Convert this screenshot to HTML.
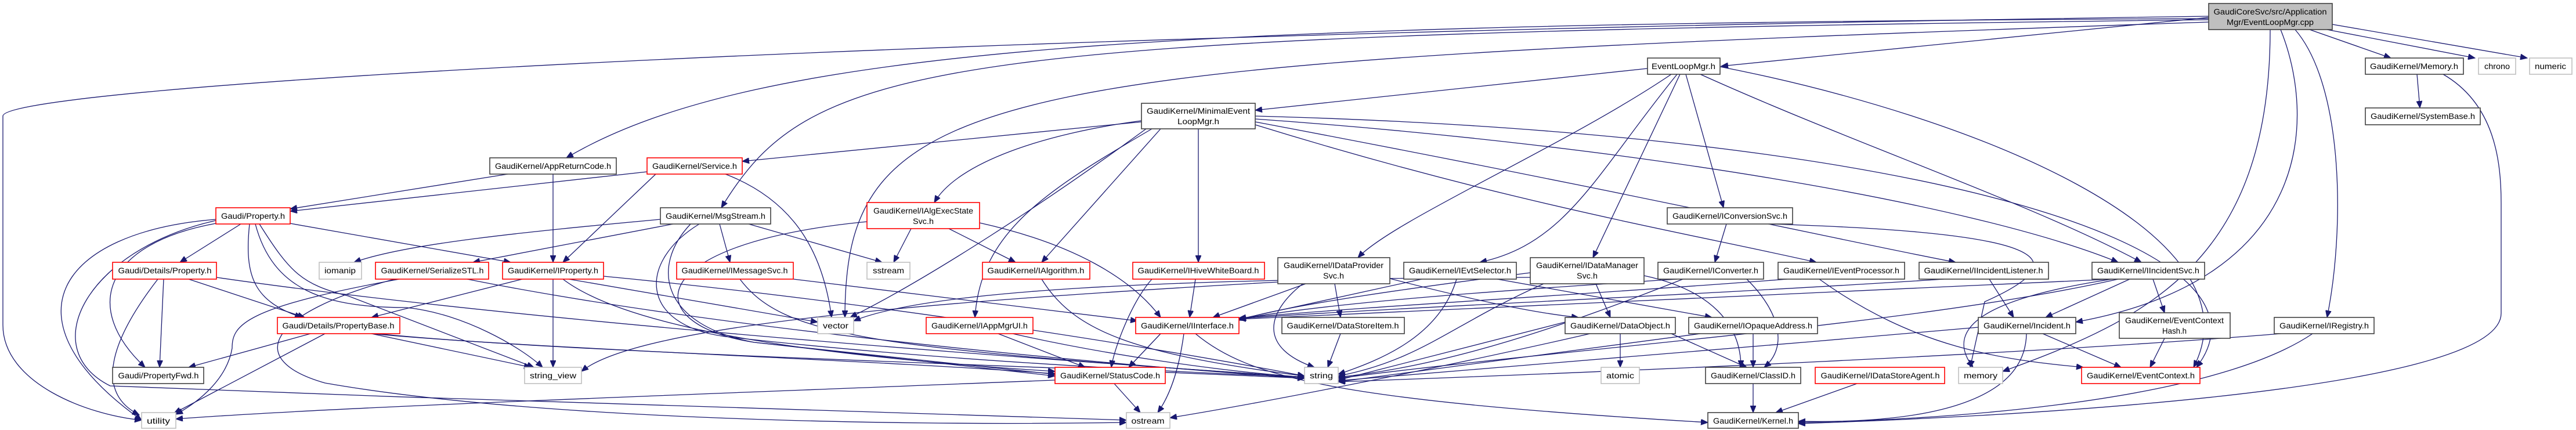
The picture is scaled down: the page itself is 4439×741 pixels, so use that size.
<!DOCTYPE html>
<html><head><meta charset="utf-8"><style>
html,body{margin:0;padding:0;background:#fff;}
svg{display:block;}
text{font-family:"Liberation Sans","DejaVu Sans",sans-serif;font-size:14px;fill:#000;}
.e{fill:none;stroke:#191970;stroke-width:1.3;marker-end:url(#a);}
.b{fill:#fff;stroke:#404040;stroke-width:1.6;}
.r{fill:#fff;stroke:#ff0000;stroke-width:1.6;}
.g{fill:#fff;stroke:#bfbfbf;stroke-width:1.6;}
</style></head><body>
<svg width="4439" height="741" viewBox="0 0 4439 741" xmlns="http://www.w3.org/2000/svg">
<defs><marker id="a" markerUnits="userSpaceOnUse" markerWidth="13" markerHeight="10" refX="12" refY="5" orient="auto"><path d="M0,0 L12,5 L0,10 z" fill="#191970" stroke="#191970"/></marker></defs>
<g>
<path class="e" d="M3806,30 L2966,114"/>
<path class="e" d="M3980,51 L4120,100"/>
<path class="e" d="M4010,51 L4265,100"/>
<path class="e" d="M4019,42 L4355,100"/>
<path class="e" d="M3806,32 C2000,40 1300,80 976,272"/>
<path class="e" d="M3806,34 C1600,60 1400,100 1243,358"/>
<path class="e" d="M3806,38 C1700,110 1456,140 1456,547"/>
<path class="e" d="M3806,28 C1500,60 5,150 5,200 L5,560 C5,660 150,715 244,724"/>
<path class="e" d="M3955,51 C4040,150 4040,400 4010,547"/>
<path class="e" d="M3930,51 C3990,200 3990,480 3577,555"/>
<path class="e" d="M3912,51 C3912,450 3700,550 3451,640"/>
<path class="e" d="M2839,118 L2163,190"/>
<path class="e" d="M2880,128 C2700,250 2400,380 2340,444"/>
<path class="e" d="M2890,128 C2750,300 2700,420 2550,452"/>
<path class="e" d="M2895,128 L2745,444"/>
<path class="e" d="M2905,128 L2970,358"/>
<path class="e" d="M2930,128 C3200,250 3500,350 3690,452"/>
<path class="e" d="M2964,115 C3400,200 3900,400 3780,633"/>
<path class="e" d="M1967,210 L1279,278"/>
<path class="e" d="M1967,208 C1800,230 1650,280 1610,349"/>
<path class="e" d="M2000,222 L1795,452"/>
<path class="e" d="M2065,222 L2065,452"/>
<path class="e" d="M1985,222 C1800,330 1690,400 1680,547"/>
<path class="e" d="M1975,222 C1800,350 1600,480 1465,547"/>
<path class="e" d="M2163,215 C2600,350 2900,400 3130,452"/>
<path class="e" d="M2163,210 C2800,330 3200,420 3370,452"/>
<path class="e" d="M2163,205 C2800,250 3400,350 3650,452"/>
<path class="e" d="M2163,200 C3300,230 3950,420 3785,633"/>
<path class="e" d="M875,300 L500,360"/>
<path class="e" d="M953,300 L953,452"/>
<path class="e" d="M1115,296 L500,364"/>
<path class="e" d="M1130,300 L970,452"/>
<path class="e" d="M1250,300 C1380,350 1420,450 1433,547"/>
<path class="e" d="M1138,378 C900,400 700,420 610,452"/>
<path class="e" d="M1160,386 L815,452"/>
<path class="e" d="M1240,386 L1258,452"/>
<path class="e" d="M1290,386 L1520,452"/>
<path class="e" d="M1205,386 C1100,450 1100,560 1250,580 C1600,620 2000,640 2248,650"/>
<path class="e" d="M1190,386 C1120,460 1140,560 1300,590 L1818,645"/>
<path class="e" d="M1570,394 L1540,452"/>
<path class="e" d="M1635,394 L1750,452"/>
<path class="e" d="M1688,384 C1850,420 1950,480 2000,547"/>
<path class="e" d="M1494,382 C1100,420 1100,560 1300,590 L1818,648"/>
<path class="e" d="M1795,481 C1850,570 1950,610 2248,648"/>
<path class="e" d="M2060,481 L2050,547"/>
<path class="e" d="M1985,481 C1950,520 1920,600 1915,633"/>
<path class="e" d="M2000,575 L1945,633"/>
<path class="e" d="M2040,575 C2030,650 2010,690 1995,711"/>
<path class="e" d="M2060,575 C2150,650 2300,690 2943,728"/>
<path class="e" d="M1920,661 L1965,711"/>
<path class="e" d="M1818,655 C1200,680 600,700 303,722"/>
<path class="e" d="M415,386 L310,452"/>
<path class="e" d="M372,385 C180,420 140,530 250,633"/>
<path class="e" d="M372,378 C100,400 0,550 244,724"/>
<path class="e" d="M430,386 C420,480 440,520 520,547"/>
<path class="e" d="M440,386 C470,500 560,530 700,530 C800,540 900,600 935,633"/>
<path class="e" d="M500,385 L880,452"/>
<path class="e" d="M447,386 C500,470 520,490 600,510 L920,633"/>
<path class="e" d="M372,380 C150,430 60,600 190,665 C800,690 1500,710 1941,724"/>
<path class="e" d="M282,481 L275,633"/>
<path class="e" d="M272,481 C180,600 170,680 240,715"/>
<path class="e" d="M325,481 L525,547"/>
<path class="e" d="M373,478 C800,540 1500,600 2248,650"/>
<path class="e" d="M688,481 C420,530 400,560 400,600 C390,660 330,700 303,714"/>
<path class="e" d="M680,481 C460,540 420,620 560,660 C900,720 1500,735 1941,728"/>
<path class="e" d="M805,481 C1200,560 1800,620 2248,652"/>
<path class="e" d="M900,481 L640,547"/>
<path class="e" d="M953,481 L953,633"/>
<path class="e" d="M980,481 L1409,555"/>
<path class="e" d="M970,481 C1100,580 1500,620 1818,640"/>
<path class="e" d="M1040,476 C1500,520 2000,600 2248,648"/>
<path class="e" d="M1367,481 L1960,553"/>
<path class="e" d="M1275,481 C1350,580 1500,600 2248,650"/>
<path class="e" d="M535,575 L325,633"/>
<path class="e" d="M560,575 L300,712"/>
<path class="e" d="M640,575 L915,633"/>
<path class="e" d="M640,575 C900,600 1500,620 1818,644"/>
<path class="e" d="M650,575 C1000,610 1800,630 2248,652"/>
<path class="e" d="M1720,575 L1870,633"/>
<path class="e" d="M1745,575 C1900,610 2100,640 2248,650"/>
<path class="e" d="M2250,489 L2090,547"/>
<path class="e" d="M2300,489 L2310,547"/>
<path class="e" d="M2245,489 C2180,540 2170,600 2265,633"/>
<path class="e" d="M2395,480 C2550,520 2650,540 2720,547"/>
<path class="e" d="M2202,486 C1600,520 1100,560 1002,640"/>
<path class="e" d="M2450,481 L2135,550"/>
<path class="e" d="M2510,481 C2480,580 2380,620 2306,645"/>
<path class="e" d="M2580,481 L2950,547"/>
<path class="e" d="M2637,470 C2400,500 2200,530 2135,552"/>
<path class="e" d="M2750,489 L2775,547"/>
<path class="e" d="M2660,489 C2500,560 2450,620 2306,648"/>
<path class="e" d="M2833,475 C2950,500 3000,560 3000,633"/>
<path class="e" d="M2637,478 C2000,480 1600,500 1471,553"/>
<path class="e" d="M2975,386 L2955,452"/>
<path class="e" d="M2890,481 C2600,500 2300,520 2135,550"/>
<path class="e" d="M3010,481 C3070,540 3080,600 3040,633"/>
<path class="e" d="M2900,481 C2700,560 2500,630 2306,650"/>
<path class="e" d="M3080,481 C2700,510 2400,525 2135,548"/>
<path class="e" d="M3135,481 C3300,600 3450,620 3590,633"/>
<path class="e" d="M3350,481 C2900,510 2400,530 2135,549"/>
<path class="e" d="M3428,481 L3470,547"/>
<path class="e" d="M3640,481 C3000,510 2500,530 2135,550"/>
<path class="e" d="M3670,481 L3525,547"/>
<path class="e" d="M3710,481 L3730,539"/>
<path class="e" d="M3650,481 C3300,560 2700,600 2306,652"/>
<path class="e" d="M3640,481 C3380,520 3360,580 3400,633"/>
<path class="e" d="M3050,386 C3500,400 3600,440 3420,520 L3395,633"/>
<path class="e" d="M2697,555 L2306,655"/>
<path class="e" d="M2792,575 L2792,633"/>
<path class="e" d="M2880,575 L3010,633"/>
<path class="e" d="M2740,575 C2500,630 2200,690 2016,720"/>
<path class="e" d="M3021,575 L3021,633"/>
<path class="e" d="M2930,575 L2306,658"/>
<path class="e" d="M3492,575 C3490,700 3300,730 3099,726"/>
<path class="e" d="M3520,575 L3655,633"/>
<path class="e" d="M3409,564 C3000,600 2500,640 2306,656"/>
<path class="e" d="M3730,583 L3705,633"/>
<path class="e" d="M3985,575 C3800,700 3300,725 3099,728"/>
<path class="e" d="M3930,575 C3500,610 2800,640 2306,658"/>
<path class="e" d="M4165,128 L4170,186"/>
<path class="e" d="M4210,128 C4300,180 4310,280 4310,350 L4310,540 C4310,680 3400,720 3099,730"/>
<path class="e" d="M3021,661 L3021,711"/>
<path class="e" d="M3200,661 L3060,711"/>
<path class="e" d="M2310,575 L2288,633"/>
</g>
<g>
<rect x="3806" y="6" width="213" height="45" fill="#bfbfbf" stroke="#404040" stroke-width="1.6"/>
<text x="3912" y="25" text-anchor="middle" textLength="195" lengthAdjust="spacingAndGlyphs">GaudiCoreSvc/src/Application</text>
<text x="3912" y="43" text-anchor="middle" textLength="150" lengthAdjust="spacingAndGlyphs">Mgr/EventLoopMgr.cpp</text>

<rect class="b" x="2839" y="100" width="125" height="28"/><text x="2901" y="119" text-anchor="middle" textLength="110" lengthAdjust="spacingAndGlyphs">EventLoopMgr.h</text>
<rect class="b" x="4076" y="100" width="169" height="28"/><text x="4160" y="119" text-anchor="middle" textLength="152" lengthAdjust="spacingAndGlyphs">GaudiKernel/Memory.h</text>
<rect class="g" x="4271" y="100" width="64" height="28"/><text x="4303" y="119" text-anchor="middle" textLength="44" lengthAdjust="spacingAndGlyphs">chrono</text>
<rect class="g" x="4359" y="100" width="73" height="28"/><text x="4395" y="119" text-anchor="middle" textLength="54" lengthAdjust="spacingAndGlyphs">numeric</text>

<rect class="b" x="1967" y="178" width="196" height="44"/>
<text x="2065" y="196" text-anchor="middle" textLength="178" lengthAdjust="spacingAndGlyphs">GaudiKernel/MinimalEvent</text>
<text x="2065" y="214" text-anchor="middle" textLength="72" lengthAdjust="spacingAndGlyphs">LoopMgr.h</text>
<rect class="b" x="4076" y="186" width="198" height="29"/><text x="4175" y="205" text-anchor="middle" textLength="180" lengthAdjust="spacingAndGlyphs">GaudiKernel/SystemBase.h</text>

<rect class="b" x="844" y="272" width="218" height="28"/><text x="953" y="291" text-anchor="middle" textLength="200" lengthAdjust="spacingAndGlyphs">GaudiKernel/AppReturnCode.h</text>
<rect class="r" x="1115" y="272" width="164" height="28"/><text x="1197" y="291" text-anchor="middle" textLength="146" lengthAdjust="spacingAndGlyphs">GaudiKernel/Service.h</text>

<rect class="r" x="372" y="358" width="128" height="28"/><text x="436" y="377" text-anchor="middle" textLength="110" lengthAdjust="spacingAndGlyphs">Gaudi/Property.h</text>
<rect class="b" x="1138" y="358" width="190" height="28"/><text x="1233" y="377" text-anchor="middle" textLength="172" lengthAdjust="spacingAndGlyphs">GaudiKernel/MsgStream.h</text>
<rect class="r" x="1494" y="349" width="194" height="45"/>
<text x="1591" y="368" text-anchor="middle" textLength="172" lengthAdjust="spacingAndGlyphs">GaudiKernel/IAlgExecState</text>
<text x="1591" y="386" text-anchor="middle" textLength="36" lengthAdjust="spacingAndGlyphs">Svc.h</text>
<rect class="b" x="2873" y="358" width="216" height="28"/><text x="2981" y="377" text-anchor="middle" textLength="198" lengthAdjust="spacingAndGlyphs">GaudiKernel/IConversionSvc.h</text>

<rect class="r" x="194" y="452" width="179" height="29"/><text x="284" y="471" text-anchor="middle" textLength="161" lengthAdjust="spacingAndGlyphs">Gaudi/Details/Property.h</text>
<rect class="g" x="550" y="452" width="73" height="29"/><text x="586" y="471" text-anchor="middle" textLength="54" lengthAdjust="spacingAndGlyphs">iomanip</text>
<rect class="r" x="647" y="452" width="195" height="29"/><text x="745" y="471" text-anchor="middle" textLength="177" lengthAdjust="spacingAndGlyphs">GaudiKernel/SerializeSTL.h</text>
<rect class="r" x="866" y="452" width="174" height="29"/><text x="953" y="471" text-anchor="middle" textLength="156" lengthAdjust="spacingAndGlyphs">GaudiKernel/IProperty.h</text>
<rect class="r" x="1166" y="452" width="201" height="29"/><text x="1266" y="471" text-anchor="middle" textLength="183" lengthAdjust="spacingAndGlyphs">GaudiKernel/IMessageSvc.h</text>
<rect class="g" x="1494" y="452" width="74" height="29"/><text x="1531" y="471" text-anchor="middle" textLength="54" lengthAdjust="spacingAndGlyphs">sstream</text>
<rect class="r" x="1693" y="452" width="185" height="29"/><text x="1785" y="471" text-anchor="middle" textLength="167" lengthAdjust="spacingAndGlyphs">GaudiKernel/IAlgorithm.h</text>
<rect class="r" x="1952" y="452" width="227" height="29"/><text x="2065" y="471" text-anchor="middle" textLength="209" lengthAdjust="spacingAndGlyphs">GaudiKernel/IHiveWhiteBoard.h</text>
<rect class="b" x="2202" y="444" width="193" height="45"/>
<text x="2298" y="462" text-anchor="middle" textLength="172" lengthAdjust="spacingAndGlyphs">GaudiKernel/IDataProvider</text>
<text x="2298" y="480" text-anchor="middle" textLength="36" lengthAdjust="spacingAndGlyphs">Svc.h</text>
<rect class="b" x="2419" y="452" width="194" height="29"/><text x="2516" y="471" text-anchor="middle" textLength="176" lengthAdjust="spacingAndGlyphs">GaudiKernel/IEvtSelector.h</text>
<rect class="b" x="2637" y="444" width="196" height="45"/>
<text x="2735" y="462" text-anchor="middle" textLength="176" lengthAdjust="spacingAndGlyphs">GaudiKernel/IDataManager</text>
<text x="2735" y="480" text-anchor="middle" textLength="36" lengthAdjust="spacingAndGlyphs">Svc.h</text>
<rect class="b" x="2857" y="452" width="182" height="29"/><text x="2948" y="471" text-anchor="middle" textLength="164" lengthAdjust="spacingAndGlyphs">GaudiKernel/IConverter.h</text>
<rect class="b" x="3064" y="452" width="218" height="29"/><text x="3173" y="471" text-anchor="middle" textLength="200" lengthAdjust="spacingAndGlyphs">GaudiKernel/IEventProcessor.h</text>
<rect class="b" x="3307" y="452" width="223" height="29"/><text x="3418" y="471" text-anchor="middle" textLength="205" lengthAdjust="spacingAndGlyphs">GaudiKernel/IIncidentListener.h</text>
<rect class="b" x="3605" y="452" width="194" height="29"/><text x="3702" y="471" text-anchor="middle" textLength="176" lengthAdjust="spacingAndGlyphs">GaudiKernel/IIncidentSvc.h</text>

<rect class="r" x="478" y="547" width="211" height="28"/><text x="583" y="566" text-anchor="middle" textLength="193" lengthAdjust="spacingAndGlyphs">Gaudi/Details/PropertyBase.h</text>
<rect class="g" x="1409" y="547" width="62" height="28"/><text x="1440" y="566" text-anchor="middle" textLength="44" lengthAdjust="spacingAndGlyphs">vector</text>
<rect class="r" x="1596" y="547" width="184" height="28"/><text x="1688" y="566" text-anchor="middle" textLength="166" lengthAdjust="spacingAndGlyphs">GaudiKernel/IAppMgrUI.h</text>
<rect class="r" x="1957" y="547" width="178" height="28"/><text x="2046" y="566" text-anchor="middle" textLength="160" lengthAdjust="spacingAndGlyphs">GaudiKernel/IInterface.h</text>
<rect class="b" x="2209" y="547" width="211" height="28"/><text x="2314" y="566" text-anchor="middle" textLength="193" lengthAdjust="spacingAndGlyphs">GaudiKernel/DataStoreItem.h</text>
<rect class="b" x="2697" y="547" width="190" height="28"/><text x="2792" y="566" text-anchor="middle" textLength="172" lengthAdjust="spacingAndGlyphs">GaudiKernel/DataObject.h</text>
<rect class="b" x="2910" y="547" width="222" height="28"/><text x="3021" y="566" text-anchor="middle" textLength="204" lengthAdjust="spacingAndGlyphs">GaudiKernel/IOpaqueAddress.h</text>
<rect class="b" x="3409" y="547" width="168" height="28"/><text x="3493" y="566" text-anchor="middle" textLength="150" lengthAdjust="spacingAndGlyphs">GaudiKernel/Incident.h</text>
<rect class="b" x="3652" y="539" width="191" height="44"/>
<text x="3747" y="557" text-anchor="middle" textLength="170" lengthAdjust="spacingAndGlyphs">GaudiKernel/EventContext</text>
<text x="3747" y="575" text-anchor="middle" textLength="42" lengthAdjust="spacingAndGlyphs">Hash.h</text>
<rect class="b" x="3919" y="547" width="172" height="28"/><text x="4005" y="566" text-anchor="middle" textLength="154" lengthAdjust="spacingAndGlyphs">GaudiKernel/IRegistry.h</text>

<rect class="b" x="194" y="633" width="157" height="28"/><text x="273" y="652" text-anchor="middle" textLength="139" lengthAdjust="spacingAndGlyphs">Gaudi/PropertyFwd.h</text>
<rect class="g" x="904" y="633" width="98" height="28"/><text x="953" y="652" text-anchor="middle" textLength="80" lengthAdjust="spacingAndGlyphs">string_view</text>
<rect class="r" x="1818" y="633" width="190" height="28"/><text x="1913" y="652" text-anchor="middle" textLength="172" lengthAdjust="spacingAndGlyphs">GaudiKernel/StatusCode.h</text>
<rect class="g" x="2248" y="633" width="58" height="28"/><text x="2277" y="652" text-anchor="middle" textLength="40" lengthAdjust="spacingAndGlyphs">string</text>
<rect class="g" x="2759" y="633" width="66" height="28"/><text x="2792" y="652" text-anchor="middle" textLength="48" lengthAdjust="spacingAndGlyphs">atomic</text>
<rect class="b" x="2939" y="633" width="164" height="28"/><text x="3021" y="652" text-anchor="middle" textLength="146" lengthAdjust="spacingAndGlyphs">GaudiKernel/ClassID.h</text>
<rect class="r" x="3128" y="633" width="223" height="28"/><text x="3240" y="652" text-anchor="middle" textLength="205" lengthAdjust="spacingAndGlyphs">GaudiKernel/IDataStoreAgent.h</text>
<rect class="g" x="3375" y="633" width="76" height="28"/><text x="3413" y="652" text-anchor="middle" textLength="58" lengthAdjust="spacingAndGlyphs">memory</text>
<rect class="r" x="3587" y="633" width="204" height="28"/><text x="3689" y="652" text-anchor="middle" textLength="186" lengthAdjust="spacingAndGlyphs">GaudiKernel/EventContext.h</text>

<rect class="g" x="244" y="711" width="59" height="27"/><text x="273" y="730" text-anchor="middle" textLength="40" lengthAdjust="spacingAndGlyphs">utility</text>
<rect class="g" x="1941" y="711" width="75" height="27"/><text x="1978" y="730" text-anchor="middle" textLength="57" lengthAdjust="spacingAndGlyphs">ostream</text>
<rect class="b" x="2943" y="711" width="156" height="27"/><text x="3021" y="730" text-anchor="middle" textLength="138" lengthAdjust="spacingAndGlyphs">GaudiKernel/Kernel.h</text>
</g>
</svg>
</body></html>
